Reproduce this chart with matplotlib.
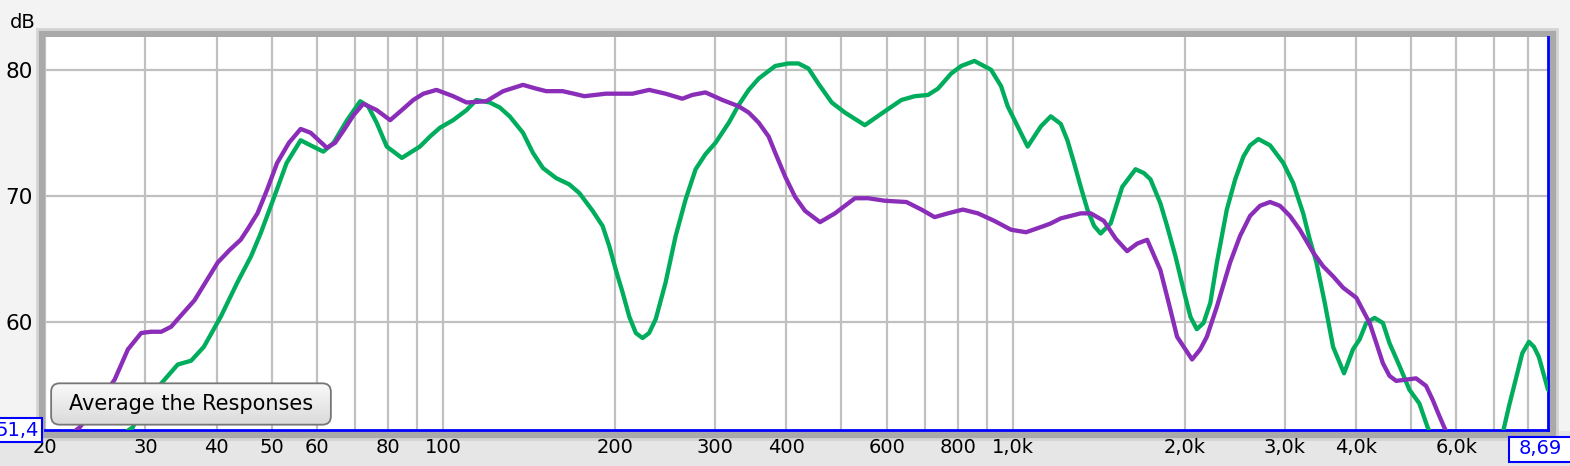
import matplotlib.pyplot as plt
from matplotlib.patches import Rectangle, FancyBboxPatch
import numpy as np

# response curves (Hz, dB)
purple_f = [20, 23.0, 24.8, 26.5, 27.96, 29.5, 30.7, 32.0, 33.3, 34.2, 36.6, 40.2, 42.2, 44.1, 45.3,
            47.2, 49.1, 51.1, 53.6, 56.2, 58.5, 62.5, 64.6, 66.9, 69.6, 72.4, 76.4, 80.7, 84.6,
            88.6, 92.3, 97.3, 104.1, 109.9, 119, 127.4, 138, 145.6, 151.6, 162, 169.5, 176.9,
            192.9, 206.5, 214.9, 229.8, 245.6, 262.8, 273.6, 288.6, 309, 330, 343.7, 357.8,
            372.5, 382.6, 398.4, 414.6, 431.5, 458.5, 487, 528, 557.2, 595.7, 650, 690.6, 728.4,
            768.8, 816.6, 867.9, 927.5, 992, 1054, 1134, 1165, 1213, 1263, 1315, 1369, 1444,
            1514, 1586, 1652, 1720, 1814, 1876, 1941, 2062, 2131, 2189, 2280, 2405, 2503, 2607,
            2714, 2826, 2941, 3062, 3187, 3363, 3502, 3646, 3796, 4005, 4226, 4342, 4459, 4579,
            4704, 5099, 5309, 5452, 5603, 5715, 6200, 7000]
purple_db = [49.5, 51.6, 53.5, 55.4, 57.8, 59.1, 59.2, 59.2, 59.6, 60.2, 61.7, 64.7, 65.7, 66.5, 67.3,
             68.6, 70.5, 72.6, 74.2, 75.3, 75.0, 73.8, 74.2, 75.2, 76.4, 77.3, 76.8, 76.0, 76.8,
             77.6, 78.1, 78.4, 77.9, 77.4, 77.5, 78.3, 78.8, 78.5, 78.3, 78.3, 78.1, 77.9,
             78.1, 78.1, 78.1, 78.4, 78.1, 77.7, 78.0, 78.2, 77.6, 77.1, 76.6, 75.8,
             74.7, 73.4, 71.5, 69.9, 68.8, 67.9, 68.6, 69.8, 69.8, 69.6, 69.5, 68.9, 68.3,
             68.6, 68.9, 68.6, 68.0, 67.3, 67.1, 67.6, 67.8, 68.2, 68.4, 68.6, 68.6, 68.0,
             66.6, 65.6, 66.2, 66.5, 64.1, 61.5, 58.8, 57.0, 57.8, 58.8, 61.2, 64.7, 66.8, 68.4,
             69.2, 69.5, 69.2, 68.4, 67.3, 65.5, 64.4, 63.6, 62.7, 61.9, 59.9, 58.3, 56.7, 55.7,
             55.3, 55.5, 54.9, 53.8, 52.5, 51.6, 48.5, 46.0]

green_f = [20, 28.5, 29.9, 32, 34.2, 36.1, 38.0, 40.7, 43.5, 46.0, 47.8, 50.5, 53.1, 56.2, 58.5,
           61.6, 64.2, 67.8, 71.5, 73.8, 76.4, 79.6, 84.6, 87.4, 91.0, 94.8, 98.7, 104.1, 109.9,
           114.3, 120.7, 125.7, 130.8, 138, 143.7, 149.6, 157.8, 166.4, 173.4, 182.9, 190.4,
           195.6, 200.9, 206.5, 212.1, 217.8, 223.8, 229.8, 236, 245.6, 255.8, 266.3, 277.3,
           288.6, 300.5, 317.2, 330, 343.7, 357.8, 382.6, 403.6, 420.2, 437.5, 455.4, 480.7,
           507, 549.5, 595.7, 637, 672.3, 709.2, 738.4, 779, 811.2, 855.7, 915, 952.9, 978.8,
           1019, 1061, 1119, 1165, 1213, 1246, 1280, 1315, 1351, 1388, 1425, 1484, 1555, 1641,
           1697, 1743, 1814, 1864, 1928, 1993, 2048, 2102, 2160, 2220, 2280, 2373, 2455, 2537,
           2607, 2696, 2826, 2981, 3103, 3231, 3319, 3409, 3525, 3646, 3811, 3951, 4059, 4169,
           4311, 4459, 4579, 4767, 4963, 5168, 5343, 6000, 6800, 7276, 7423, 7626, 7834, 8045,
           8211, 8375, 8690]
green_db = [47.0, 51.6, 53.5, 55.1, 56.6, 56.9, 58.0, 60.4, 63.1, 65.2, 67.0, 69.9, 72.6, 74.4, 74.0,
            73.5, 74.2, 76.0, 77.5, 77.1, 75.8, 73.9, 73.0, 73.4, 73.9, 74.7, 75.4, 76.0, 76.8,
            77.6, 77.4, 77.0, 76.3, 75.0, 73.4, 72.2, 71.4, 70.9, 70.2, 68.8, 67.6,
            66.0, 64.1, 62.3, 60.4, 59.1, 58.7, 59.1, 60.2, 63.1, 66.8, 69.7, 72.1,
            73.3, 74.2, 75.8, 77.2, 78.4, 79.3, 80.3, 80.5, 80.5, 80.1, 78.9, 77.4,
            76.6, 75.6, 76.7, 77.6, 77.9, 78.0, 78.5, 79.7, 80.3, 80.7, 80.0, 78.7, 77.1,
            75.5, 73.9, 75.5, 76.3, 75.7, 74.4, 72.6, 70.7, 68.9, 67.6, 67.0, 67.8, 70.7, 72.1,
            71.8, 71.3, 69.4, 67.6, 65.2, 62.5, 60.4, 59.4, 59.9, 61.5, 64.7, 68.9, 71.3, 73.1,
            74.0, 74.5, 74.0, 72.6, 71.0, 68.6, 66.5, 64.7, 61.5, 58.0, 55.9, 57.8, 58.6, 59.9,
            60.3, 59.9, 58.3, 56.5, 54.6, 53.5, 51.6, 47.0, 47.0, 51.6, 53.3, 55.4, 57.5, 58.4,
            58.0, 57.2, 54.6]

xgrid = [20, 30, 40, 50, 60, 70, 80, 90, 100, 200, 300, 400, 500, 600, 700, 800, 900,
         1000, 2000, 3000, 4000, 5000, 6000, 7000, 8000]
xticks = [20, 30, 40, 50, 60, 80, 100, 200, 300, 400, 600, 800, 1000, 2000, 3000, 4000, 6000, 8000]
xlabels = ['20', '30', '40', '50', '60', '80', '100', '200', '300', '400', '600', '800',
           '1,0k', '2,0k', '3,0k', '4,0k', '6,0k', '8,']
yticks = [60, 70, 80]
ymin, ymax = 51.4, 82.6
fmin, fmax = 20, 8690

W, H = 1570, 466
fig = plt.figure(figsize=(W / 100, H / 100), dpi=100)
fig.patch.set_facecolor('#f3f3f3')

def fx(px):
    return px / W

def fy(py):
    return 1 - py / H

# darker strip under the plot
fig.patches.append(Rectangle((0, 0), 1, fy(431), transform=fig.transFigure,
                             facecolor='#e6e6e6', edgecolor='none', zorder=-2))
# gray frame round the plot
fig.patches.append(Rectangle((fx(37), fy(439)), fx(1557 - 37), fy(29) - fy(439),
                             transform=fig.transFigure, facecolor='#a9a9a9',
                             edgecolor='#d4d4d4', lw=2, zorder=-1))

ax = fig.add_axes([fx(45), fy(430), fx(1548 - 45), fy(37) - fy(430)])
ax.set_zorder(1)
ax.set_facecolor('white')
ax.set_xscale('log')
ax.set_xlim(fmin, fmax)
ax.set_ylim(ymin, ymax)

for f in xgrid:
    ax.axvline(f, color='#c0c0c0', lw=1.6, zorder=1)
for v in yticks:
    ax.axhline(v, color='#c0c0c0', lw=1.6, zorder=1)

ax.plot(green_f, green_db, color='#00ad5c', lw=3.1, zorder=3,
        solid_joinstyle='round', solid_capstyle='round')
ax.plot(purple_f, purple_db, color='#8a2db8', lw=3.1, zorder=4,
        solid_joinstyle='round', solid_capstyle='round')

ax.set_xticks(xticks)
ax.set_xticklabels(xlabels)
ax.xaxis.set_minor_locator(plt.NullLocator())
ax.set_yticks(yticks)
ax.tick_params(axis='x', length=0, pad=6, labelsize=14)
ax.tick_params(axis='y', length=0, pad=9, labelsize=15.5)
for s in ['top', 'left']:
    ax.spines[s].set_visible(False)
for s in ['bottom', 'right']:
    ax.spines[s].set_color('#0000ff')
    ax.spines[s].set_linewidth(2)

fig.text(fx(10), fy(22), 'dB', fontsize=14, va='center', ha='left')

# button with a soft vertical gradient
bx = fig.add_axes([fx(50), fy(426), fx(332 - 50), fy(382) - fy(426)])
bx.set_zorder(5)
bx.set_axis_off()
bx.set_xlim(0, 1)
bx.set_ylim(0, 1)
grad = np.linspace(0, 1, 64).reshape(-1, 1)
img = bx.imshow(grad, extent=(0, 1, 0, 1), aspect='auto', origin='lower',
                cmap=plt.matplotlib.colors.LinearSegmentedColormap.from_list('b', ['#d9d9d9', '#fbfbfb']))
btn = FancyBboxPatch((0.004, 0.03), 0.992, 0.94, boxstyle='round,pad=0,rounding_size=0.03',
                     mutation_aspect=6.4, facecolor='none', edgecolor='#767676', lw=1.3,
                     transform=bx.transAxes)
bx.add_patch(btn)
img.set_clip_path(btn)
bx.text(0.5, 0.5, 'Average the Responses', fontsize=15, ha='center', va='center',
        transform=bx.transAxes)

# value boxes on the axes
fig.patches.append(Rectangle((fx(-5), fy(442)), fx(47), fy(418) - fy(442), transform=fig.transFigure,
                             facecolor='white', edgecolor='#0000ff', lw=1.5, zorder=12))
fig.text(fx(39), fy(430), '51,4', color='#0000ff', fontsize=14, ha='right', va='center', zorder=13)
fig.patches.append(Rectangle((fx(1509), fy(462)), fx(70), fy(437) - fy(462), transform=fig.transFigure,
                             facecolor='white', edgecolor='#0000ff', lw=1.5, zorder=12))
fig.text(fx(1540), fy(449), '8,69', color='#0000ff', fontsize=14, ha='center', va='center', zorder=13)

fig.savefig('out.png', dpi=100, facecolor=fig.get_facecolor())
